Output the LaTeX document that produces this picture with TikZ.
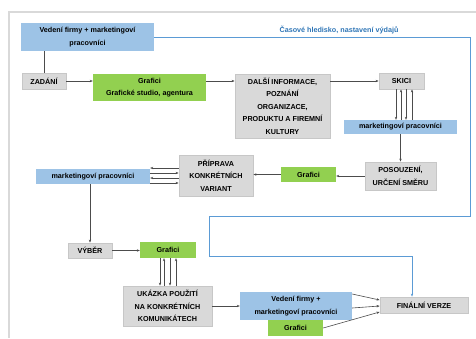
\documentclass[tikz,border=0pt]{standalone}
\usepackage{fontspec}
\setmainfont{Liberation Sans}
\usetikzlibrary{arrows.meta, positioning, calc}
\definecolor{boxblue}{HTML}{9DC3E6}
\definecolor{boxgreen}{HTML}{92D050}
\definecolor{boxgray}{HTML}{D9D9D9}
\definecolor{lineblue}{HTML}{5B9BD5}
\definecolor{textblue}{HTML}{2E75B6}

\begin{document}
\begin{tikzpicture}[
      x=1pt, y=-1pt,
      >={Stealth[length=3pt,width=2.4pt]},
      font=\bfseries\fontsize{7.2}{12.5}\selectfont,
      box/.style = {
        inner sep=1pt,
        align=center
      },
      graybox/.style = {box, fill=boxgray, draw=black!22, line width=0.8pt},
      bluebox/.style = {box, fill=boxblue},
      greenbox/.style = {box, fill=boxgreen},
      link/.style = {draw=black!70, line width=0.6pt},
      bluelink/.style = {draw=lineblue, line width=0.9pt}
    ]

    \useasboundingbox (0,0) rectangle (476,338);
    \draw[black!15, line width=1.5pt] (476,12) -- (9,12) -- (9,338);

    % upper row
    \node[bluebox, minimum width=133pt, minimum height=28pt]  (vedeni)    at (87.5,37)  {Vedení firmy + marketingoví\\pracovníci};
    \node[graybox, minimum width=44pt, minimum height=16pt]   (zadani)    at (44,81)    {ZADÁNÍ};
    \node[greenbox, minimum width=113pt, minimum height=27pt] (grafici)   at (149.5,87.5) {Grafici\\Grafické studio, agentura};
    \node[graybox, minimum width=95pt, minimum height=64pt]   (dalsi)     at (282.5,106) {DALŠÍ INFORMACE,\\POZNÁNÍ\\ORGANIZACE,\\PRODUKTU A FIREMNÍ\\KULTURY};
    \node[graybox, minimum width=45pt, minimum height=16pt]   (skici)     at (401.5,81) {SKICI};
    \node[bluebox, minimum width=113pt, minimum height=14pt]  (mktright)  at (400.5,127) {marketingoví pracovníci};

    % middle row
    \node[graybox, minimum width=71pt, minimum height=28pt]   (posouzeni) at (400.5,176) {POSOUZENÍ,\\URČENÍ SMĚRU};
    \node[greenbox, minimum width=55pt, minimum height=15pt]  (graficimid) at (308.5,174.5) {Grafici};
    \node[graybox, minimum width=74pt, minimum height=41pt]   (priprava)  at (216,175.5) {PŘÍPRAVA\\KONKRÉTNÍCH\\VARIANT};
    \node[bluebox, minimum width=114pt, minimum height=15pt]  (mktleft)   at (93,176.5) {marketingoví pracovníci};

    % lower rows
    \node[graybox, minimum width=44pt, minimum height=15pt]   (vyber)     at (90,250.5) {VÝBĚR};
    \node[greenbox, minimum width=56pt, minimum height=16pt]  (graficilow) at (168,250) {Grafici};
    \node[graybox, minimum width=89pt, minimum height=40pt]   (ukazka)    at (167.5,306) {UKÁZKA POUŽITÍ\\NA KONKRÉTNÍCH\\KOMUNIKÁTECH};
    \node[bluebox, minimum width=112pt, minimum height=28pt]  (vedenilow) at (296,306) {Vedení firmy +\\marketingoví pracovníci};
    \node[greenbox, minimum width=55pt, minimum height=16pt]  (graficibot) at (295.5,328) {Grafici};
    \node[graybox, minimum width=88pt, minimum height=16pt]   (finalni)   at (424,305) {FINÁLNÍ VERZE};

    \node[text=textblue] (casove) at (339,30) {Časové hledisko, nastavení výdajů};

    \draw[link] (zadani.north) -- (zadani.north |- vedeni.south);
    \draw[link,->] (zadani.east) -- (zadani.east -| grafici.west);
    \draw[link,->] (grafici.east |- zadani) -- (dalsi.west |- zadani);
    \draw[link,->] (dalsi.east |- skici) -- (skici.west);

    \foreach \dx in {-5.5, 4.5}
      \draw[link,->] ($(skici.south)+(\dx,0)$) -- ($(skici.south |- mktright.north)+(\dx,0)$);
    \foreach \dx in {-0.5, 10.5}
      \draw[link,<-] ($(skici.south)+(\dx,0)$) -- ($(skici.south |- mktright.north)+(\dx,0)$);

    \draw[link,->] (mktright.south) -- (posouzeni.north);
    \draw[link,->] (posouzeni.west) -- (posouzeni.west -| graficimid.east);
    \draw[link,->] (graficimid.west) -- (graficimid.west -| priprava.east);

    \foreach \dy in {-7.5, 2.5}
      \draw[link,->] ($(priprava.west)+(0,\dy)$) -- ($(priprava.west -| mktleft.east)+(0,\dy)$);
    \foreach \dy in {-2.5, 7.5}
      \draw[link,<-] ($(priprava.west)+(0,\dy)$) -- ($(priprava.west -| mktleft.east)+(0,\dy)$);

    \draw[link,->] (vyber.north |- mktleft.south) -- (vyber.north);
    \draw[link,->] (vyber.east) -- (vyber.east -| graficilow.west);

    \foreach \dx in {-8, 2}
      \draw[link,->] ($(graficilow.south)+(\dx,0)$) -- ($(graficilow.south |- ukazka.north)+(\dx,0)$);
    \foreach \dx in {-4, 8}
      \draw[link,<-] ($(graficilow.south)+(\dx,0)$) -- ($(graficilow.south |- ukazka.north)+(\dx,0)$);

    \draw[link,->] (ukazka.east) -- (ukazka.east -| vedenilow.west);
    \draw[link,->] ($(vedenilow.east)+(0,-12)$) -- ($(finalni.west)+(0,-5)$);
    \draw[link,->] ($(vedenilow.east)+(0,2)$) -- ($(finalni.west)+(0,1)$);
    \draw[link,->] (graficibot.east) -- ($(finalni.west)+(0,7)$);

    \draw[bluelink,->] (vedeni.east) -| (470,216) -| (209,256) -| ($(finalni.north)+(-12,0)$);

  \end{tikzpicture}
\end{document}
